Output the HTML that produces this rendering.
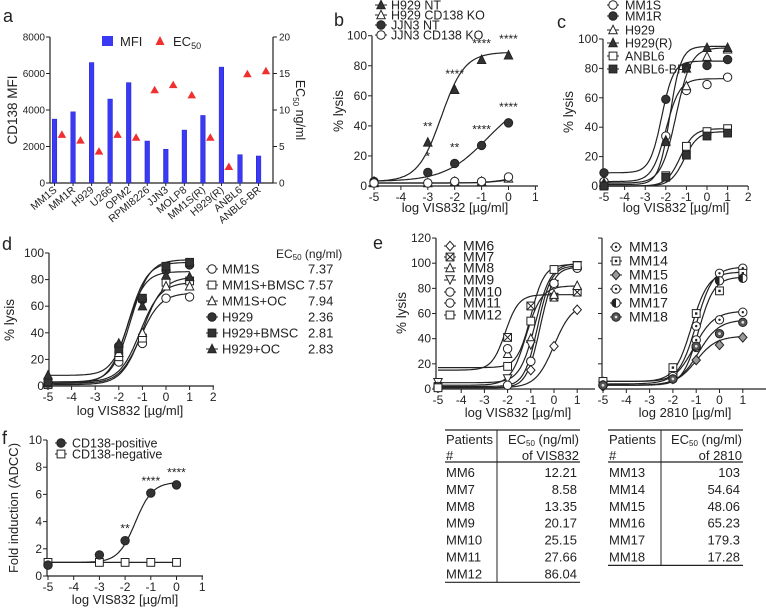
<!DOCTYPE html>
<html><head><meta charset="utf-8"><style>
html,body{margin:0;padding:0;background:#fff}
svg{display:block;font-family:"Liberation Sans",Arial,sans-serif}
text{fill:#222}
</style></head><body>
<svg id="fig" width="766" height="608" viewBox="0 0 766 608" xmlns="http://www.w3.org/2000/svg"></svg>
<script>
// ---------- DATA ----------
// panel a
const aCats=["MM1S","MM1R","H929","U266","OPM2","RPMI8226","JJN3","MOLP8","MM1S(R)","H929(R)","ANBL6","ANBL6-BR"];
const aMFI=[3500,3900,6600,4600,5500,2300,1850,2900,3700,6350,1550,1480];
const aEC50=[6.6,5.8,4.3,6.6,6.2,12.7,13.4,12.0,6.2,2.2,14.9,15.3];
const aLeftTicks=[0,2000,4000,6000,8000];
const aRightTicks=[0,5,10,15,20];
// shared
const doseX=[-5,-3,-2,-1,0];
const doseX2=[-5,-2,-1,0,1];
// panel b
const bNames=["H929 NT","H929 CD138 KO","JJN3 NT","JJN3 CD138 KO"];
const bMarkers=["ft","ot","fc","oc"];
const bH929NT=[3,29,64,84,87];
const bH929KO=[2,2,3,3,5];
const bJJN3NT=[3,9,15,27,42];
const bJJN3KO=[2,2,3,3,6];
const bFitBottom=[3,2,3,2];
const bFitTop=[89,6,60,7];
const bFitLogEC=[-2.5,0,-0.8,0];
const bFitHill=[1,1,0.55,1];
const bStarsH929=["","**","****","****","****"];
const bStarsJJN3=["","*","**","****","****"];
// panel c
const cNames=["MM1S","MM1R","H929","H929(R)","ANBL6","ANBL6-BR"];
const cMarkers=["oc","fc","ot","ft","os","fs"];
const cMM1S=[3,34,65,69,74];
const cMM1R=[9,59,81,82,86];
const cH929=[2,31,68,88,93];
const cH929R=[1,30,80,94,94];
const cANBL6=[0,7,27,37,39];
const cANBL6BR=[0,6,21,34,36];
const cFitBottom=[3,9,2,1,0,0];
const cFitTop=[73,85,94,95,39,37];
const cFitLogEC=[-2.0,-2.2,-1.5,-1.8,-1.3,-1.1];
const cFitHill=[1.3,1.5,1.2,1.6,1.3,1.3];
// panel d
const dNames=["MM1S","MM1S+BMSC","MM1S+OC","H929","H929+BMSC","H929+OC"];
const dEC50=["7.37","7.57","7.94","2.36","2.81","2.83"];
const dMarkers=["oc","os","ot","fc","fs","ft"];
const dMM1S=[1,18,32,66,67];
const dMM1SB=[1,22,36,78,79];
const dMM1SO=[2,25,40,75,75];
const dH929=[2,30,65,87,91];
const dH929B=[3,28,66,90,93];
const dH929O=[8,32,60,83,82];
const dFitBottom=[2,1,3,2,3,8];
const dFitTop=[70,82,78,93,95,86];
const dFitLogEC=[-1.1,-1.0,-1.1,-1.6,-1.5,-1.6];
const dFitHill=[1,1,1,1.1,1.1,1.2];
// panel e left
const eLNames=["MM6","MM7","MM8","MM9","MM10","MM11","MM12"];
const eLMarkers=["od","sx","ot","oit","oc","oc","os"];
const eMM6=[1,3,15,34,63];
const eMM7=[2,41,66,73,77];
const eMM8=[3,28,40,75,82];
const eMM9=[5,8,35,83,98];
const eMM10=[2,32,22,83,96];
const eMM11=[1,3,22,84,96];
const eMM12=[1,18,54,95,98];
const eLFitBottom=[1,15,3,5,2,1,17];
const eLFitTop=[68,75,82,100,98,97,99];
const eLFitLogEC=[0,-2.1,-1.2,-0.8,-0.7,-0.6,-1.0];
const eLFitHill=[1.1,1.5,1.3,1.3,1.5,1.5,1.5];
const eLEC50=["12.21","8.58","13.35","20.17","25.15","27.66","86.04"];
// panel e right
const eRNames=["MM13","MM14","MM15","MM16","MM17","MM18"];
const eRMarkers=["dc","ds","dd","dc","hc","gc"];
const eMM13=[6,12,50,92,96];
const eMM14=[6,17,60,78,92];
const eMM15=[2,8,23,35,41];
const eMM16=[3,10,39,55,61];
const eMM17=[3,8,33,86,88];
const eMM18=[3,8,34,44,53];
const eRFitBottom=[6,6,3,4,3,3];
const eRFitTop=[97,93,42,62,89,55];
const eRFitLogEC=[-1.0,-1.2,-1.0,-1.1,-0.9,-0.9];
const eRFitHill=[1.2,1.2,1,1,1.3,1];
const eREC50=["103","54.64","48.06","65.23","179.3","17.28"];
// panel f
const fNames=["CD138-positive","CD138-negative"];
const fPos=[0.8,1.55,2.6,6.1,6.7];
const fNeg=[1.0,1.0,1.0,1.0,1.0];
const fStars=["","","**","****","****"];
const fFitBottom=[1.0,1.0];
const fFitTop=[6.9,1.0];
const fFitLogEC=[-1.6,0];
const fFitHill=[1.3,1];
const pctTicks=[0,20,40,60,80,100];
const eTicks=[0,20,40,60,80,100,120];
const fTicks=[0,2,4,6,8,10];

// ---------- HELPERS ----------
const NS='http://www.w3.org/2000/svg';
const svg=document.getElementById('fig');
function mk(tag,attrs,parent){const e=document.createElementNS(NS,tag);for(const k in attrs)e.setAttribute(k,attrs[k]);(parent||svg).appendChild(e);return e;}
function txt(s,x,y,size,anchor,parent,extra){const t=mk('text',Object.assign({x:x,y:y,'font-size':size,'text-anchor':anchor||'start'},extra||{}),parent);t.textContent=s;return t;}
function sig(x,b,t,ec,h){return b+(t-b)/(1+Math.pow(10,(ec-x)*h));}
function marker(type,x,y,g){
  const r=4.2;const grp=mk('g',{},g);
  let fill='#fff';if(type[0]==='f')fill='#333';
  const st={stroke:'#222','stroke-width':1,fill:fill};
  if(type==='oc'||type==='fc'){mk('circle',Object.assign({cx:x,cy:y,r:r},st),grp);}
  else if(type==='ot'||type==='ft'){mk('polygon',Object.assign({points:`${x},${y-r-0.5} ${x-r},${y+r-0.5} ${x+r},${y+r-0.5}`},st),grp);}
  else if(type==='oit'){mk('polygon',Object.assign({points:`${x},${y+r} ${x-r},${y-r} ${x+r},${y-r}`},st),grp);}
  else if(type==='os'||type==='fs'){mk('rect',Object.assign({x:x-r+0.3,y:y-r+0.3,width:2*r-0.6,height:2*r-0.6},st),grp);}
  else if(type==='od'){mk('polygon',Object.assign({points:`${x},${y-r-0.5} ${x+r},${y} ${x},${y+r+0.5} ${x-r},${y}`},st),grp);}
  else if(type==='sx'){mk('rect',Object.assign({x:x-r+0.3,y:y-r+0.3,width:2*r-0.6,height:2*r-0.6},st),grp);mk('path',{d:`M${x-r+0.3} ${y-r+0.3}L${x+r-0.3} ${y+r-0.3}M${x+r-0.3} ${y-r+0.3}L${x-r+0.3} ${y+r-0.3}`,stroke:'#222','stroke-width':1},grp);}
  else if(type==='dc'){mk('circle',Object.assign({cx:x,cy:y,r:r},st),grp);mk('circle',{cx:x,cy:y,r:1.2,fill:'#222'},grp);}
  else if(type==='ds'){mk('rect',Object.assign({x:x-r+0.3,y:y-r+0.3,width:2*r-0.6,height:2*r-0.6},st),grp);mk('rect',{x:x-1.2,y:y-1.2,width:2.4,height:2.4,fill:'#222'},grp);}
  else if(type==='dd'){mk('polygon',{points:`${x},${y-r-0.5} ${x+r},${y} ${x},${y+r+0.5} ${x-r},${y}`,fill:'#999',stroke:'#222','stroke-width':1},grp);}
  else if(type==='hc'){mk('circle',Object.assign({cx:x,cy:y,r:r},st),grp);mk('path',{d:`M${x} ${y-r}A${r} ${r} 0 0 0 ${x} ${y+r}Z`,fill:'#222'},grp);}
  else if(type==='gc'){mk('circle',{cx:x,cy:y,r:r,fill:'#555',stroke:'#222','stroke-width':1},grp);mk('circle',{cx:x,cy:y,r:1.4,fill:'#ddd'},grp);}
  return grp;
}
function axes(g,X0,X1,Y0,Y1,xt,yt,sx,sy,tickSize){
  mk('line',{x1:X0,y1:Y0,x2:X0,y2:Y1,stroke:'#222','stroke-width':1.2},g);
  mk('line',{x1:X0,y1:Y0,x2:X1,y2:Y0,stroke:'#222','stroke-width':1.2},g);
  yt.forEach(v=>{const y=sy(v);mk('line',{x1:X0-4,y1:y,x2:X0,y2:y,stroke:'#222'},g);
    const t=txt(String(v),X0-5,y+4,tickSize||12,'end',g);
    
    });
  xt.forEach(v=>{const x=sx(v);mk('line',{x1:x,y1:Y0,x2:x,y2:Y0+4,stroke:'#222'},g);
    const t=txt(String(v),x,Y0+15,tickSize||12,'middle',g);
    
    });
}
function curve(g,sx,sy,b,t,ec,h,xa,xb){
  let d='';for(let i=0;i<=120;i++){const x=xa+(xb-xa)*i/120;d+=(i?'L':'M')+sx(x).toFixed(1)+' '+sy(sig(x,b,t,ec,h)).toFixed(1);}
  const p=mk('path',{d:d,fill:'none',stroke:'#222','stroke-width':1.2},g);
  
  
}
function series(g,sx,sy,xs,ys,type,name){
  const sg=mk('g',{},g);
  
  
  xs.forEach((x,i)=>{const m=marker(type,sx(x),sy(ys[i]),sg);
    
    });
}
function legend(g,names,types,mx,tx,ys,size){
  names.forEach((n,i)=>{
    const lg=mk('g',{},g);
    
    
    mk('line',{x1:mx-6,y1:ys[i],x2:mx+6,y2:ys[i],stroke:'#222'},lg);
    marker(types[i],mx,ys[i],lg);
    txt(n,tx,ys[i]+4.5,size||12.5,'start',lg);
  });
}
function panelLetter(s,x,y){const t=txt(s,x,y,18,'start');
  
  }
function yTitle(g,s,x,y,size){const t=txt(s,x,y,size||13.5,'middle',g,{transform:`rotate(-90 ${x} ${y})`});
  
  return t;}
function xTitle(g,s,x,y,size){const t=txt(s,x,y,size||13,'middle',g);
  
  }

// ---------- PANEL A ----------
(function(){
  const g=mk('g',{});
  
  
  panelLetter('a',3,22);
  const X0=50,X1=273,Y0=183,Yt=37;
  const sy=v=>Y0-v/8000*(Y0-Yt), sy2=v=>Y0-v/20*(Y0-Yt);
  const bx=i=>54.5+i*18.55;
  mk('line',{x1:X0,y1:Yt,x2:X0,y2:Y0,stroke:'#222','stroke-width':1.2},g);
  mk('line',{x1:X1,y1:Yt,x2:X1,y2:Y0,stroke:'#222','stroke-width':1.2},g);
  mk('line',{x1:X0,y1:Y0,x2:X1,y2:Y0,stroke:'#222','stroke-width':1.2},g);
  aLeftTicks.forEach(v=>{mk('line',{x1:X0-4,y1:sy(v),x2:X0,y2:sy(v),stroke:'#222'},g);
    const t=txt(String(v),X0-5,sy(v)+3.5,10,'end',g);
    
    });
  aRightTicks.forEach(v=>{mk('line',{x1:X1,y1:sy2(v),x2:X1+4,y2:sy2(v),stroke:'#222'},g);
    const t=txt(String(v),X1+6,sy2(v)+3.5,10,'start',g);
    
    });
  aCats.forEach((c,i)=>{
    const x=bx(i);
    const b=mk('rect',{x:x-2.3,y:sy(aMFI[i]),width:4.6,height:Y0-sy(aMFI[i]),fill:'#3a3af5',stroke:'#2222cc','stroke-width':0.5},g);
    
    
    const tx=x+7.4,ty=sy2(aEC50[i]);
    const tr=mk('polygon',{points:`${tx},${ty-4.5} ${tx-4.3},${ty+3} ${tx+4.3},${ty+3}`,fill:'#f03030'},g);
    
    
    mk('line',{x1:x,y1:Y0,x2:x,y2:Y0+3,stroke:'#222'},g);
    const t=txt(c,x+3,Y0+8,10.5,'end',g,{transform:`rotate(-40 ${x+3} ${Y0+8})`});
    
    
  });
  yTitle(g,'CD138 MFI',17,110,13.5);
  const r2=txt('',296,110,12.5,'middle',g,{transform:'rotate(90 296 110)'});
  r2.innerHTML='EC<tspan font-size="8" dy="3">50</tspan><tspan dy="-3"> ng/ml</tspan>';
  
  
  const lg=mk('g',{},g);
  
  
  mk('rect',{x:102,y:36,width:11,height:10,fill:'#3a3af5'},lg);
  txt('MFI',120,46,13,'start',lg);
  mk('polygon',{points:'160,36 155.5,45 164.5,45',fill:'#f03030'},lg);
  const ec=txt('',173,46,13,'start',lg);
  ec.innerHTML='EC<tspan font-size="9" dy="3">50</tspan>';
})();

// ---------- PANEL B ----------
(function(){
  const g=mk('g',{});
  
  
  panelLetter('b',334,26);
  const sx=v=>374+(v+5)*26.9, sy=v=>186-v*1.503;
  axes(g,372,538,186,35.7,[-5,-4,-3,-2,-1,0,1],pctTicks,sx,sy);
  const ys=[bH929NT,bH929KO,bJJN3NT,bJJN3KO];
  ys.forEach((d,i)=>{curve(g,sx,sy,bFitBottom[i],bFitTop[i],bFitLogEC[i],bFitHill[i],-5,0);});
  ys.forEach((d,i)=>series(g,sx,sy,doseX,d,bMarkers[i],bNames[i]));
  doseX.forEach((x,i)=>{
    if(bStarsH929[i]){const t=txt(bStarsH929[i],sx(x),sy(bH929NT[i]+8),12,'middle',g);}
    if(bStarsJJN3[i]){const t=txt(bStarsJJN3[i],sx(x),sy(bJJN3NT[i]+8),12,'middle',g);}
  });
  legend(g,bNames,bMarkers,381,391,[5,15,25,35],12.5);
  yTitle(g,'% lysis',343,111);
  xTitle(g,'log VIS832 [µg/ml]',455,212);
})();

// ---------- PANEL C ----------
(function(){
  const g=mk('g',{});
  
  
  panelLetter('c',557,28);
  const sx=v=>604+(v+5)*20.6, sy=v=>186-v*1.47;
  axes(g,603,748,186,39,[-5,-4,-3,-2,-1,0,1,2],pctTicks,sx,sy);
  const ys=[cMM1S,cMM1R,cH929,cH929R,cANBL6,cANBL6BR];
  ys.forEach((d,i)=>curve(g,sx,sy,cFitBottom[i],cFitTop[i],cFitLogEC[i],cFitHill[i],-5,1));
  ys.forEach((d,i)=>series(g,sx,sy,doseX2,d,cMarkers[i],cNames[i]));
  legend(g,cNames,cMarkers,613,625,[5,16,30,43,56,69],12.5);
  yTitle(g,'% lysis',573,112);
  xTitle(g,'log VIS832 [µg/ml]',676,212);
})();

// ---------- PANEL D ----------
(function(){
  const g=mk('g',{});
  
  
  panelLetter('d',2,250);
  const sx=v=>48+(v+5)*23.6, sy=v=>386-v*1.33;
  axes(g,49,214,386,253,[-5,-4,-3,-2,-1,0,1,2],pctTicks,sx,sy);
  const ys=[dMM1S,dMM1SB,dMM1SO,dH929,dH929B,dH929O];
  ys.forEach((d,i)=>curve(g,sx,sy,dFitBottom[i],dFitTop[i],dFitLogEC[i],dFitHill[i],-5,1));
  ys.forEach((d,i)=>series(g,sx,sy,doseX2,d,dMarkers[i],dNames[i]));
  const ly=[269,285,301,317,333,349];
  legend(g,dNames,dMarkers,212,222,ly,13);
  dEC50.forEach((v,i)=>{const t=txt(v,308,ly[i]+4.5,13,'start',g);});
  const h=txt('',276,258,12,'start',g);
  h.innerHTML='EC<tspan font-size="8" dy="2">50</tspan><tspan dy="-2"> (ng/ml)</tspan>';
  
  
  yTitle(g,'% lysis',14,320);
  xTitle(g,'log VIS832 [µg/ml]',130,415);
})();

// ---------- PANEL E ----------
(function(){
  const g=mk('g',{});
  
  
  panelLetter('e',373,249);
  const sy=v=>389-v*1.258;
  const sxL=v=>438+(v+5)*23.2, sxR=v=>603+(v+5)*23.3;
  axes(g,436,595,389,238,[-5,-4,-3,-2,-1,0,1],eTicks,sxL,sy);
  axes(g,602,766,389,238,[-5,-4,-3,-2,-1,0,1],[],sxR,sy);
  eTicks.forEach(v=>{if(v>0)mk('line',{x1:598,y1:sy(v),x2:602,y2:sy(v),stroke:'#222'},g);});
  const yl=[eMM6,eMM7,eMM8,eMM9,eMM10,eMM11,eMM12];
  yl.forEach((d,i)=>curve(g,sxL,sy,eLFitBottom[i],eLFitTop[i],eLFitLogEC[i],eLFitHill[i],-5,1));
  yl.forEach((d,i)=>series(g,sxL,sy,doseX2,d,eLMarkers[i],eLNames[i]));
  const yr=[eMM13,eMM14,eMM15,eMM16,eMM17,eMM18];
  yr.forEach((d,i)=>curve(g,sxR,sy,eRFitBottom[i],eRFitTop[i],eRFitLogEC[i],eRFitHill[i],-5,1));
  yr.forEach((d,i)=>series(g,sxR,sy,doseX2,d,eRMarkers[i],eRNames[i]));
  legend(g,eLNames,eLMarkers,450,463,[246,257,268,280,292,303,315],14);
  legend(g,eRNames,eRMarkers,616,629,[247,261,275,289,303,317],14);
  yTitle(g,'% lysis',406,313);
  xTitle(g,'log VIS832 [µg/ml]',518,417);
  xTitle(g,'log 2810 [µg/ml]',685,417);
  function table(x0,x1,xd,names,vals,drug,name){
    const tg=mk('g',{},g);
    
    
    const rowH=16.9, top=430, hb=462;
    const bottom=hb+rowH*names.length+2;
    mk('line',{x1:x0,y1:top,x2:x1,y2:top,stroke:'#222','stroke-width':1.2},tg);
    mk('line',{x1:x0,y1:hb,x2:x1,y2:hb,stroke:'#222','stroke-width':1.2},tg);
    mk('line',{x1:x0,y1:bottom,x2:x1,y2:bottom,stroke:'#222','stroke-width':1.2},tg);
    mk('line',{x1:xd,y1:top,x2:xd,y2:bottom,stroke:'#222','stroke-width':1},tg);
    txt('Patients',x0+1,444,13,'start',tg);
    txt('#',x0+1,460,13,'start',tg);
    const h=txt('',x1-1,444,13,'end',tg);
    h.innerHTML='EC<tspan font-size="8" dy="2">50</tspan><tspan dy="-2"> (ng/ml)</tspan>';
    txt('of '+drug,x1-1,460,13,'end',tg);
    names.forEach((n,i)=>{const y=477+i*rowH;
      const a=txt(n,x0+1,y,13,'start',tg);
      
      
      const b=txt(vals[i],x1-3,y,13,'end',tg);
      
      });
  }
  table(445,580,497,eLNames,eLEC50,'VIS832','table-vis832');
  table(608,743,661,eRNames,eREC50,'2810','table-2810');
})();

// ---------- PANEL F ----------
(function(){
  const g=mk('g',{});
  
  
  panelLetter('f',2,444);
  const sx=v=>48+(v+5)*25.7, sy=v=>576-v*13.6;
  axes(g,47,203,576,440,[-5,-4,-3,-2,-1,0,1],fTicks,sx,sy);
  curve(g,sx,sy,fFitBottom[0],fFitTop[0],fFitLogEC[0],fFitHill[0],-5,0);
  curve(g,sx,sy,fFitBottom[1],fFitTop[1],fFitLogEC[1],fFitHill[1],-5,0);
  series(g,sx,sy,doseX,fNeg,'os',fNames[1]);
  series(g,sx,sy,doseX,fPos,'fc',fNames[0]);
  doseX.forEach((x,i)=>{if(fStars[i]){const t=txt(fStars[i],sx(x),sy(fPos[i]+0.6),12,'middle',g);}});
  legend(g,fNames,['fc','os'],61,72,[443,454],12.5);
  yTitle(g,'Fold induction (ADCC)',18,508,13);
  xTitle(g,'log VIS832 [µg/ml]',125,604);
})();
</script>
</body></html>
